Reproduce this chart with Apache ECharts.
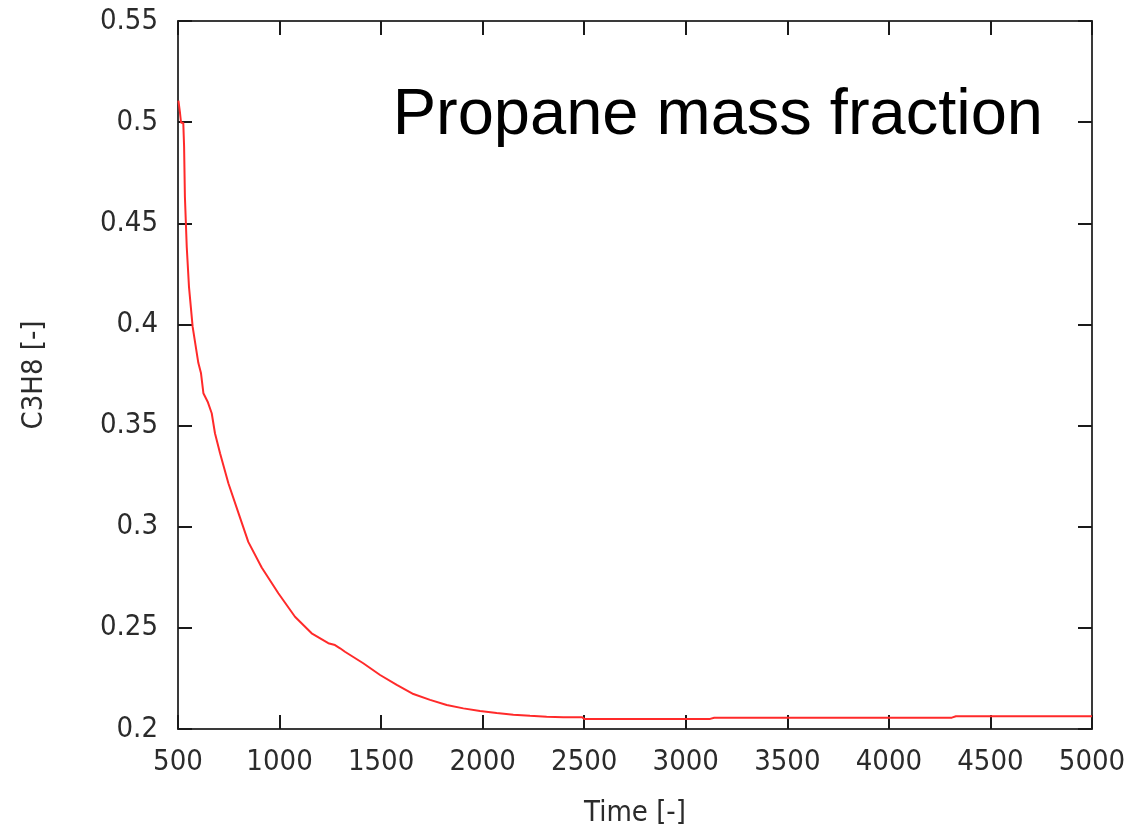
<!DOCTYPE html>
<html>
<head>
<meta charset="utf-8">
<script src="https://cdn.jsdelivr.net/npm/echarts@6/dist/echarts.min.js"></script>
<style>
html,body{margin:0;padding:0;background:#fff;}
#chart{width:1137px;height:831px;}
</style>
</head>
<body>
<div id="chart"></div>
<script>
// Data
const timeValues = [502, 510, 515, 526, 530, 534, 543, 554, 572, 600, 613, 625, 646, 666, 682, 707, 748, 797, 846, 912, 994, 1076, 1158, 1240, 1273, 1298, 1322, 1412, 1495, 1577, 1659, 1741, 1823, 1905, 1987, 2069, 2151, 2233, 2315, 2397, 2490, 2500, 3120, 3140, 4310, 4330, 5000];
const c3h8Values = [0.5106, 0.5044, 0.4997, 0.4997, 0.4879, 0.4631, 0.4384, 0.4187, 0.3989, 0.3810, 0.3760, 0.3660, 0.3618, 0.3561, 0.3462, 0.3363, 0.3215, 0.3070, 0.2925, 0.2798, 0.2671, 0.2555, 0.2473, 0.2424, 0.2415, 0.2399, 0.2382, 0.2325, 0.2267, 0.2218, 0.2173, 0.2144, 0.2119, 0.2102, 0.2089, 0.2079, 0.2071, 0.2065, 0.2060, 0.2058, 0.2058, 0.2050, 0.2050, 0.2056, 0.2056, 0.2063, 0.2063];
const xTickLabels = [500, 1000, 1500, 2000, 2500, 3000, 3500, 4000, 4500, 5000];
const yTickLabels = [0.2, 0.25, 0.3, 0.35, 0.4, 0.45, 0.5, 0.55];
const titleText = 'Propane mass fraction';
const xAxisName = 'Time [-]';
const yAxisName = 'C3H8 [-]';

const chart = echarts.init(document.getElementById('chart'), null, {renderer: 'canvas'});
const seriesData = timeValues.map((t, i) => [t, c3h8Values[i]]);

const xMin = xTickLabels[0], xMax = xTickLabels[xTickLabels.length - 1], xInt = xTickLabels[1] - xTickLabels[0];
const yMin = yTickLabels[0], yMax = yTickLabels[yTickLabels.length - 1], yInt = 0.05;

const lineStyleAxis = {color: '#3a3a3a', width: 2};
const tickStyle = {show: true, inside: true, length: 14, lineStyle: {color: '#1a1a1a', width: 2}};
const fontFam = '"DejaVu Sans Condensed", "DejaVu Sans", sans-serif';
const labelFont = {fontFamily: fontFam, fontSize: 29, color: '#2b2b2b'};

chart.setOption({
  animation: false,
  backgroundColor: '#fff',
  title: {
    text: titleText,
    right: 89,
    top: 79,
    textStyle: {fontFamily: 'Liberation Sans', fontSize: 65, fontWeight: 'normal', color: '#000'}
  },
  grid: {left: 178, right: 45, top: 21, bottom: 102, containLabel: false, outerBoundsMode: 'none'},
  xAxis: [{
    type: 'value', min: xMin, max: xMax, interval: xInt, position: 'bottom',
    name: xAxisName, nameLocation: 'middle', nameGap: 70,
    nameTextStyle: {fontFamily: fontFam, fontSize: 29, color: '#2b2b2b'},
    axisLine: {show: true, onZero: false, lineStyle: lineStyleAxis},
    axisTick: tickStyle,
    axisLabel: Object.assign({margin: 19, formatter: v => String(v)}, labelFont),
    splitLine: {show: false}
  }, {
    type: 'value', min: xMin, max: xMax, interval: xInt, position: 'top',
    axisLine: {show: true, onZero: false, lineStyle: lineStyleAxis},
    axisTick: tickStyle,
    axisLabel: {show: false},
    splitLine: {show: false}
  }],
  yAxis: [{
    type: 'value', min: yMin, max: yMax, interval: yInt, position: 'left',
    name: yAxisName, nameLocation: 'middle', nameGap: 129, nameRotate: 90,
    nameTextStyle: {fontFamily: fontFam, fontSize: 29, color: '#2b2b2b'},
    axisLine: {show: true, onZero: false, lineStyle: lineStyleAxis},
    axisTick: tickStyle,
    axisLabel: Object.assign({margin: 20}, labelFont),
    splitLine: {show: false}
  }, {
    type: 'value', min: yMin, max: yMax, interval: yInt, position: 'right',
    axisLine: {show: true, onZero: false, lineStyle: lineStyleAxis},
    axisTick: tickStyle,
    axisLabel: {show: false},
    splitLine: {show: false}
  }],
  series: [{
    type: 'line',
    xAxisIndex: 0, yAxisIndex: 0,
    data: seriesData,
    showSymbol: false,
    smooth: false,
    lineStyle: {color: '#ff2a2a', width: 2}
  }]
});
</script>
</body>
</html>
